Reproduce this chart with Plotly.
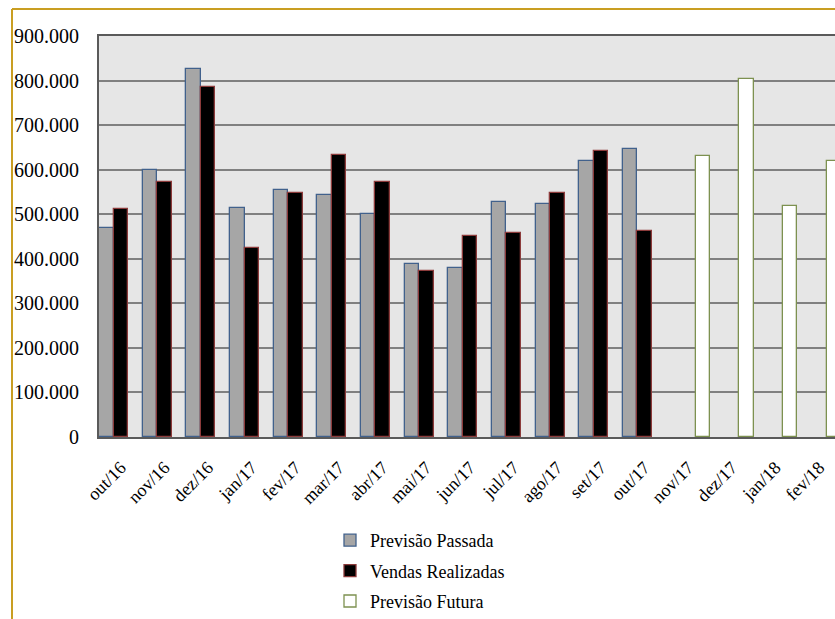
import plotly.graph_objects as go

# Monthly categories (Oct/2016 to Feb/2018)
months = ["out/16", "nov/16", "dez/16", "jan/17", "fev/17", "mar/17", "abr/17",
          "mai/17", "jun/17", "jul/17", "ago/17", "set/17", "out/17",
          "nov/17", "dez/17", "jan/18", "fev/18"]

# Past forecast, actual sales and future forecast
previsao_passada = [469000, 599000, 825000, 513000, 555000, 544000, 500000,
                    388000, 380000, 528000, 523000, 619000, 646000,
                    None, None, None, None]
vendas_realizadas = [511000, 573000, 786000, 425000, 547000, 633000, 573000,
                     373000, 451000, 457000, 547000, 643000, 463000,
                     None, None, None, None]
previsao_futura = [None] * 13 + [631000, 803000, 519000, 619000]

y_ticks = [0, 100000, 200000, 300000, 400000, 500000, 600000, 700000, 800000, 900000]

W, H = 835, 619
L, R, T, B = 99, 0, 36, 182
pw, ph = W - L - R, H - T - B


def px_x(p):
    return (p - L) / pw


def px_y(p):
    return (H - B - p) / ph


fig = go.Figure()
fig.add_trace(go.Bar(x=months, y=previsao_passada, name="Previsão Passada",
                     legendgroup="a",
                     marker=dict(color="#a6a6a6", line=dict(color="#41618c", width=1.3))))
fig.add_trace(go.Bar(x=months, y=vendas_realizadas, name="Vendas Realizadas",
                     legendgroup="b",
                     marker=dict(color="#000000", line=dict(color="#8c3b3b", width=1.3))))
fig.add_trace(go.Bar(x=months, y=previsao_futura, name="Previsão Futura",
                     legendgroup="c",
                     marker=dict(color="#ffffff", line=dict(color="#7d9150", width=1.3))))

serif = "Liberation Serif, Times New Roman, serif"

fig.update_layout(
    width=W, height=H,
    margin=dict(l=L, r=R, t=T, b=B, autoexpand=False),
    paper_bgcolor="white",
    plot_bgcolor="#e6e6e6",
    barmode="group",
    bargap=0,
    bargroupgap=0,
    separators=",.",
    font=dict(family=serif, color="#000000"),
    showlegend=True,
    legend=dict(
        x=px_x(330), xanchor="left",
        y=px_y(522), yanchor="top",
        orientation="v",
        font=dict(family=serif, size=18, color="#000000"),
        tracegroupgap=4,
        bgcolor="rgba(0,0,0,0)",
    ),
    xaxis=dict(
        type="category",
        range=[-0.5, -0.5 + pw / 43.65],
        automargin=False,
        showgrid=False,
        showline=True, linecolor="#5a5a5a", linewidth=2, mirror=True,
        ticks="",
        tickangle=-45,
        tickfont=dict(family=serif, size=18, color="#000000"),
        ticklabelstandoff=11,
        fixedrange=True,
    ),
    yaxis=dict(
        range=[0, 900000],
        automargin=False,
        tickvals=y_ticks,
        tickformat=",d",
        showgrid=True, gridcolor="#808080", gridwidth=1.5,
        zeroline=False,
        showline=True, linecolor="#5a5a5a", linewidth=2,
        ticks="",
        tickfont=dict(family=serif, size=20, color="#000000"),
        ticklabelstandoff=14,
        fixedrange=True,
    ),
    shapes=[
        # golden chart frame (top and left edges)
        dict(type="line", xref="paper", yref="paper",
             x0=px_x(12), y0=px_y(9), x1=px_x(900), y1=px_y(9),
             line=dict(color="#c99e22", width=2)),
        dict(type="line", xref="paper", yref="paper",
             x0=px_x(12), y0=px_y(9), x1=px_x(12), y1=px_y(700),
             line=dict(color="#c99e22", width=2)),
    ],
)

fig.write_html("out.html")
